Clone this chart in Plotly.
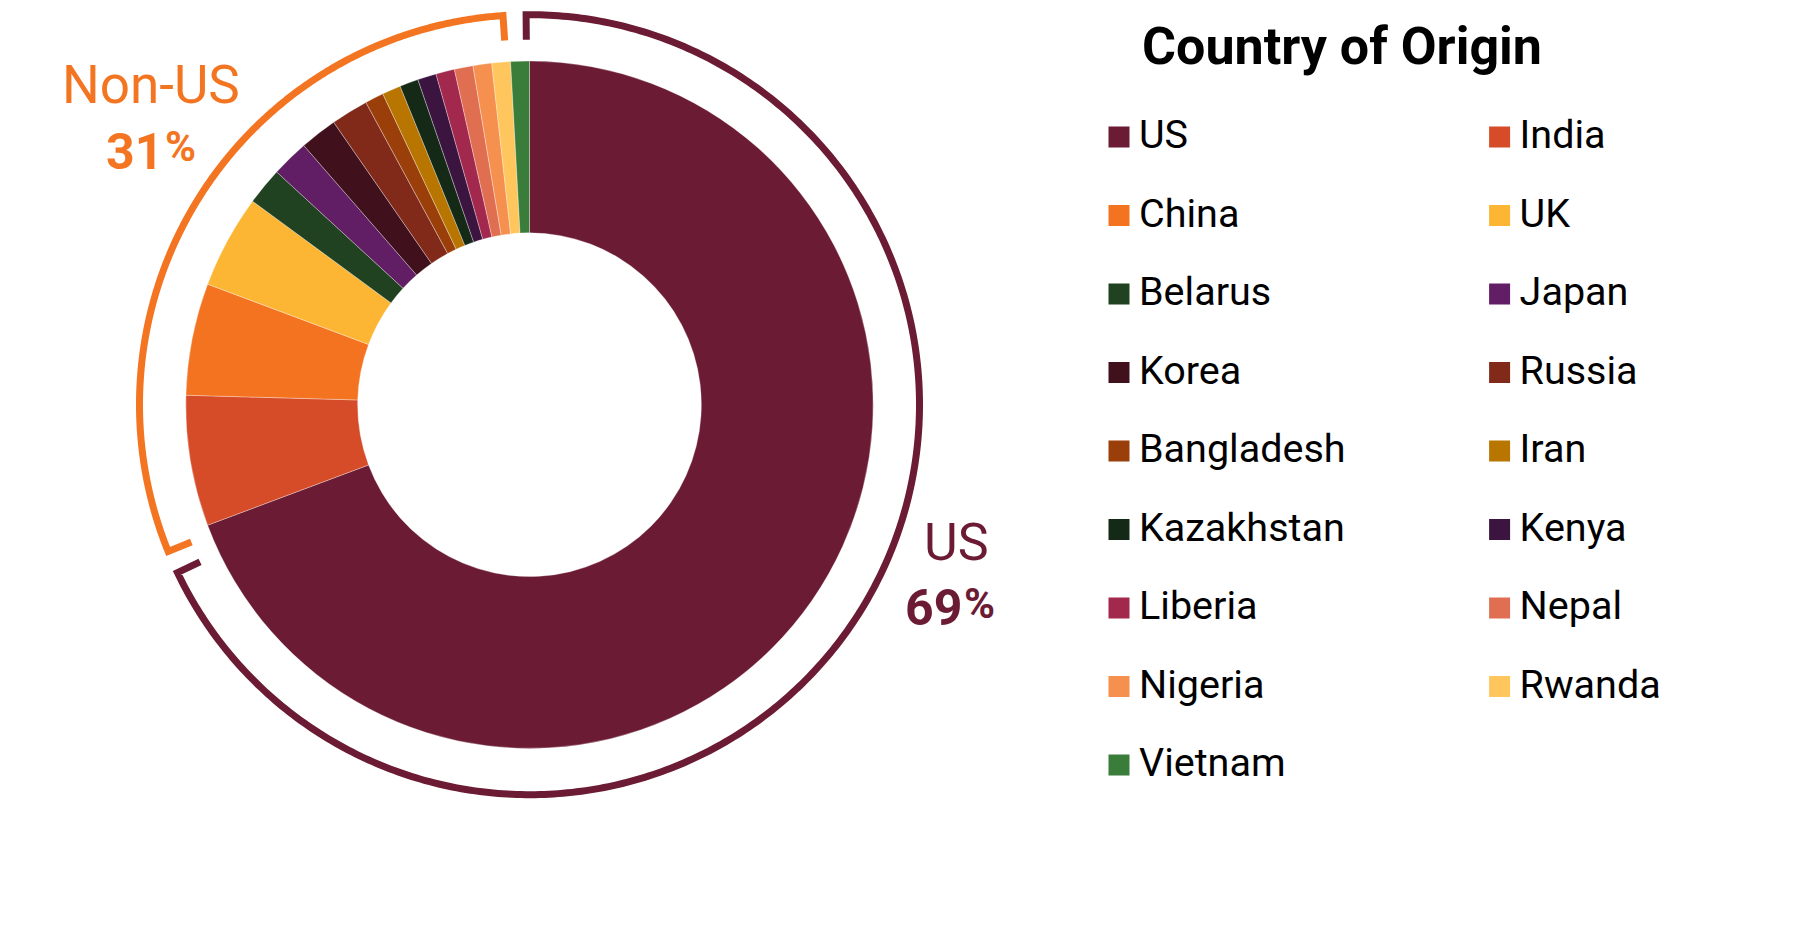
import math
import plotly.graph_objects as go

# ---------------- data ----------------
countries = ["US", "India", "China", "UK", "Belarus", "Japan", "Korea", "Russia",
             "Bangladesh", "Iran", "Kazakhstan", "Kenya", "Liberia", "Nepal",
             "Nigeria", "Rwanda", "Vietnam"]
counts = [79, 7, 6, 5, 2, 2, 2, 2, 1, 1, 1, 1, 1, 1, 1, 1, 1]
colors = ["#6B1B33", "#D64B28", "#F47321", "#FDB634", "#214220", "#621E64",
          "#40101D", "#822A1A", "#9B3F0A", "#B87600", "#142A16", "#3C1440",
          "#A3284E", "#E06F52", "#F5904F", "#FEC65C", "#3A7D3A"]

group_labels = ["US", "Non-US"]
group_pct = [69, 31]
group_colors = ["#6B1B33", "#F47521"]
legend_title = "Country of Origin"

# ---------------- layout geometry ----------------
FIG_W, FIG_H = 1820, 943
PLOT_W = 1099                      # plot area width (legend sits right of it)
CX, CY_TOP, R = 529.5, 404.7, 343.7
CY = FIG_H - CY_TOP                # centre measured from bottom
dom_x = [(CX - R) / PLOT_W, (CX + R) / PLOT_W]
dom_y = [(CY - R) / FIG_H, (CY + R) / FIG_H]

FONT = "Roboto"

fig = go.Figure()

fig.add_trace(go.Pie(
    labels=countries, values=counts, sort=False, direction="clockwise",
    rotation=0, hole=0.5, domain=dict(x=dom_x, y=dom_y),
    marker=dict(colors=colors, line=dict(color="rgba(255,255,255,0.45)", width=0.7)),
    textinfo="none", hoverinfo="label+value+percent", showlegend=False,
))

# legend entries (square swatches) driven by the same data, two columns
for i, (name, col) in enumerate(zip(countries, colors)):
    fig.add_trace(go.Scatter(
        x=[None], y=[None], mode="markers",
        name=f'<span style="font-size:39.5px">{name}</span><br> ',
        marker=dict(symbol="square", size=16, color=col, line=dict(color=col, width=5)),
        hoverinfo="skip", showlegend=True, xaxis="x", yaxis="y",
        legend="legend" if i % 2 == 0 else "legend2",
    ))

# ---------------- brackets ----------------
R_ARC = R * 390.0 / 343.7
TICK = 25
OFFSET = -2.2
GAP = 3.4


def pt(theta, r):
    t = math.radians(theta)
    return CX + r * math.sin(t), CY + r * math.cos(t)


start = OFFSET
for lab, pct, col in zip(group_labels, group_pct, group_colors):
    span = 360.0 * pct / sum(group_pct)
    a0, a1 = start + GAP / 2, start + span - GAP / 2
    xs, ys = [], []
    x, y = pt(a0, R_ARC - TICK); xs.append(x); ys.append(y)
    n = 360
    for i in range(n + 1):
        x, y = pt(a0 + (a1 - a0) * i / n, R_ARC); xs.append(x); ys.append(y)
    x, y = pt(a1, R_ARC - TICK); xs.append(x); ys.append(y)
    fig.add_trace(go.Scatter(x=xs, y=ys, mode="lines",
                             line=dict(color=col, width=7, simplify=False, shape="linear"),
                             hoverinfo="skip", showlegend=False))
    start += span

# ---------------- labels ----------------
def ann(text, x, ytop, size, color, bold=False, xanchor="center"):
    fig.add_annotation(text=text, x=x / PLOT_W, y=1 - ytop / FIG_H, xref="paper", yref="paper",
                       xanchor=xanchor, yanchor="middle", showarrow=False,
                       font=dict(family=FONT, size=size, color=color,
                                 weight="bold" if bold else "normal"))

ann(group_labels[1], 150.5, 85.3, 53, group_colors[1])
ann(str(group_pct[1]), 165, 152.2, 50, group_colors[1], True, "right")
ann("%", 163, 146.3, 42, group_colors[1], True, "left")
ann(group_labels[0], 956.7, 542.5, 52, group_colors[0])
ann(str(group_pct[0]), 963.5, 607.5, 50, group_colors[0], True, "right")
ann("%", 961.5, 603.3, 42, group_colors[0], True, "left")
ann(legend_title, 1140, 46.6, 52, "#000000", True, "left")

LEG_TOP = 111.5
COL2_X = 1099 + 380.6
leg_common = dict(orientation="v", xanchor="left", y=1 - LEG_TOP / FIG_H, yanchor="top",
                  valign="top", font=dict(family=FONT, size=29.04, color="#000000"),
                  bgcolor="rgba(0,0,0,0)", borderwidth=0, traceorder="normal")
fig.update_layout(
    width=FIG_W, height=FIG_H,
    margin=dict(l=0, r=FIG_W - PLOT_W, t=0, b=0, autoexpand=False),
    paper_bgcolor="white", plot_bgcolor="white",
    xaxis=dict(range=[0, PLOT_W], visible=False, fixedrange=True),
    yaxis=dict(range=[0, FIG_H], visible=False, fixedrange=True),
    legend=dict(x=1099 / PLOT_W, **leg_common),
    legend2=dict(x=COL2_X / PLOT_W, **leg_common),
    showlegend=True, hovermode="closest",
)

fig.write_html("out.html", config={"displayModeBar": False},
               post_script="document.body.style.margin='0px';")
